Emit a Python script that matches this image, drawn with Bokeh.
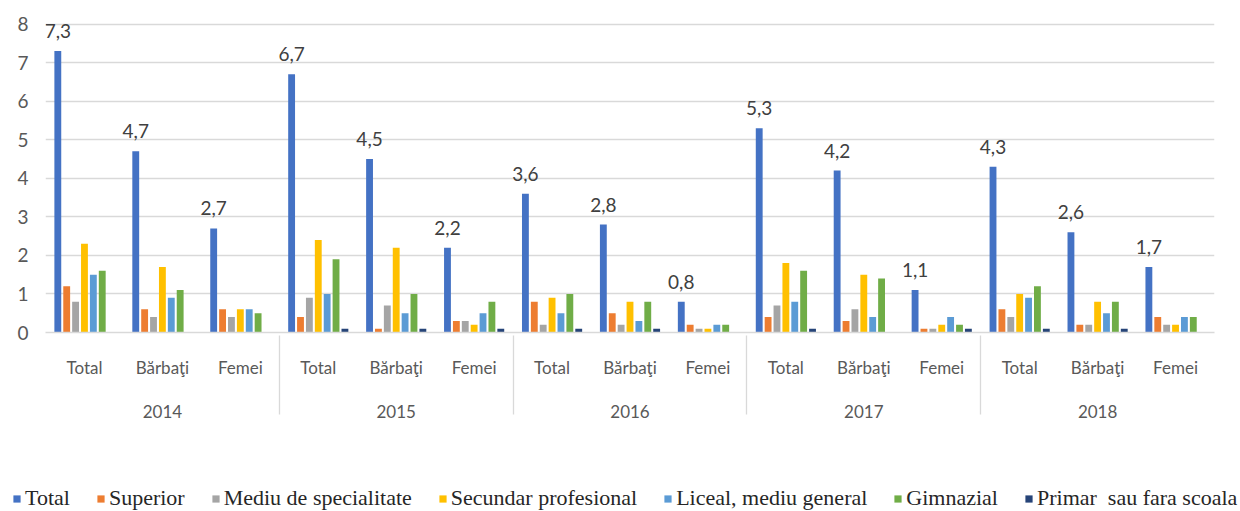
from bokeh.plotting import figure
from bokeh.layouts import column
from bokeh.models import (ColumnDataSource, FactorRange, Legend, LegendItem, Range1d,
                          FixedTicker)
from bokeh.transform import dodge
from bokeh.core.properties import value
from bokeh.embed import file_html
from bokeh.resources import INLINE

years = ["2014", "2015", "2016", "2017", "2018"]
sexes = ["Total", "Bărbaţi", "Femei"]

series_names = ["Total", "Superior", "Mediu de specialitate", "Secundar profesional",
                "Liceal, mediu general", "Gimnazial", "Primar  sau fara scoala"]
series_colors = ["#4472C4", "#ED7D31", "#A5A5A5", "#FFC000", "#5B9BD5", "#70AD47", "#264478"]

total     = [7.3, 4.7, 2.7, 6.7, 4.5, 2.2, 3.6, 2.8, 0.8, 5.3, 4.2, 1.1, 4.3, 2.6, 1.7]
superior  = [1.2, 0.6, 0.6, 0.4, 0.1, 0.3, 0.8, 0.5, 0.2, 0.4, 0.3, 0.1, 0.6, 0.2, 0.4]
mediu     = [0.8, 0.4, 0.4, 0.9, 0.7, 0.3, 0.2, 0.2, 0.1, 0.7, 0.6, 0.1, 0.4, 0.2, 0.2]
secundar  = [2.3, 1.7, 0.6, 2.4, 2.2, 0.2, 0.9, 0.8, 0.1, 1.8, 1.5, 0.2, 1.0, 0.8, 0.2]
liceal    = [1.5, 0.9, 0.6, 1.0, 0.5, 0.5, 0.5, 0.3, 0.2, 0.8, 0.4, 0.4, 0.9, 0.5, 0.4]
gimnazial = [1.6, 1.1, 0.5, 1.9, 1.0, 0.8, 1.0, 0.8, 0.2, 1.6, 1.4, 0.2, 1.2, 0.8, 0.4]
primar    = [0.0, 0.0, 0.0, 0.1, 0.1, 0.1, 0.1, 0.1, 0.0, 0.1, 0.0, 0.1, 0.1, 0.1, 0.0]

y_ticks = [0, 1, 2, 3, 4, 5, 6, 7, 8]

factors = [(y, s) for y in years for s in sexes]
series_values = [total, superior, mediu, secundar, liceal, gimnazial, primar]
keys = ["total", "superior", "mediu", "secundar", "liceal", "gimnazial", "primar"]

data = dict(x=factors)
for k, v in zip(keys, series_values):
    data[k] = v
data["lbl"] = [("%.1f" % v).replace(".", ",") for v in total]
src = ColumnDataSource(data)

FONT = "Lato"
AX = "#595959"

p = figure(x_range=FactorRange(*factors, factor_padding=0, group_padding=0, range_padding=0),
           y_range=Range1d(0, 8.3),
           width=1240, height=467, output_backend="svg", toolbar_location=None,
           min_border_left=45, min_border_right=26, min_border_top=12, min_border_bottom=135)
p.frame_align = False

slot = 0.114
for i, (k, col) in enumerate(zip(keys, series_colors)):
    p.vbar(x=dodge("x", (i - 3) * slot, range=p.x_range), top=k, width=0.088,
           source=src, fill_color=col, line_color=None)

p.text(x=dodge("x", -3 * slot, range=p.x_range), y="total", text="lbl", source=src,
       y_offset=-20, text_align="center", text_baseline="alphabetic",
       text_font=value(FONT), text_font_size="19px", text_color="#404040")

p.outline_line_color = None
p.background_fill_color = "white"
p.xgrid.grid_line_color = None
p.ygrid.grid_line_color = "#D9D9D9"
p.ygrid.grid_line_width = 1.3
p.ygrid.ticker = FixedTicker(ticks=y_ticks)

p.yaxis.ticker = FixedTicker(ticks=y_ticks)
p.yaxis.axis_line_color = None
p.yaxis.major_tick_line_color = None
p.yaxis.minor_tick_line_color = None
p.yaxis.major_label_standoff = 11
p.yaxis.major_label_text_font = FONT
p.yaxis.major_label_text_font_size = "19px"
p.yaxis.major_label_text_color = AX

xa = p.xaxis[0]
xa.axis_line_color = "#D9D9D9"
xa.axis_line_width = 1.3
xa.major_tick_line_color = None
xa.major_tick_out = 0
xa.major_tick_in = 0
xa.major_label_standoff = 24
xa.major_label_text_font = FONT
xa.major_label_text_font_size = "17px"
xa.major_label_text_color = AX
xa.group_text_font = FONT
xa.group_text_font_size = "17px"
xa.group_text_font_style = "normal"
xa.group_text_color = AX
xa.separator_line_color = "#D9D9D9"
xa.separator_line_width = 1.3

# legend strip (its own frame spans the full width)
pl = figure(width=1240, height=44, output_backend="svg", toolbar_location=None,
            min_border=0, x_range=Range1d(0, 1), y_range=Range1d(0, 1))
pl.frame_align = False
pl.axis.visible = False
pl.grid.visible = False
pl.outline_line_color = None
items = []
for name, col in zip(series_names, series_colors):
    # zero-height proxy so the legend can draw its swatch
    r = pl.vbar(x=[0.5], top=[0], width=0.001, fill_color=col, line_color=None)
    items.append(LegendItem(label=name, renderers=[r]))

legend = Legend(items=items, orientation="horizontal", location=(12, 0),
                label_text_font="Liberation Serif", label_text_font_size="22px",
                label_text_color="#262626", glyph_width=9, glyph_height=9,
                label_standoff=4, spacing=26, padding=0, margin=0,
                border_line_color=None, background_fill_alpha=0)
pl.add_layout(legend)

layout = column(p, pl, spacing=0)
open("out.html", "w").write(file_html(layout, INLINE))
